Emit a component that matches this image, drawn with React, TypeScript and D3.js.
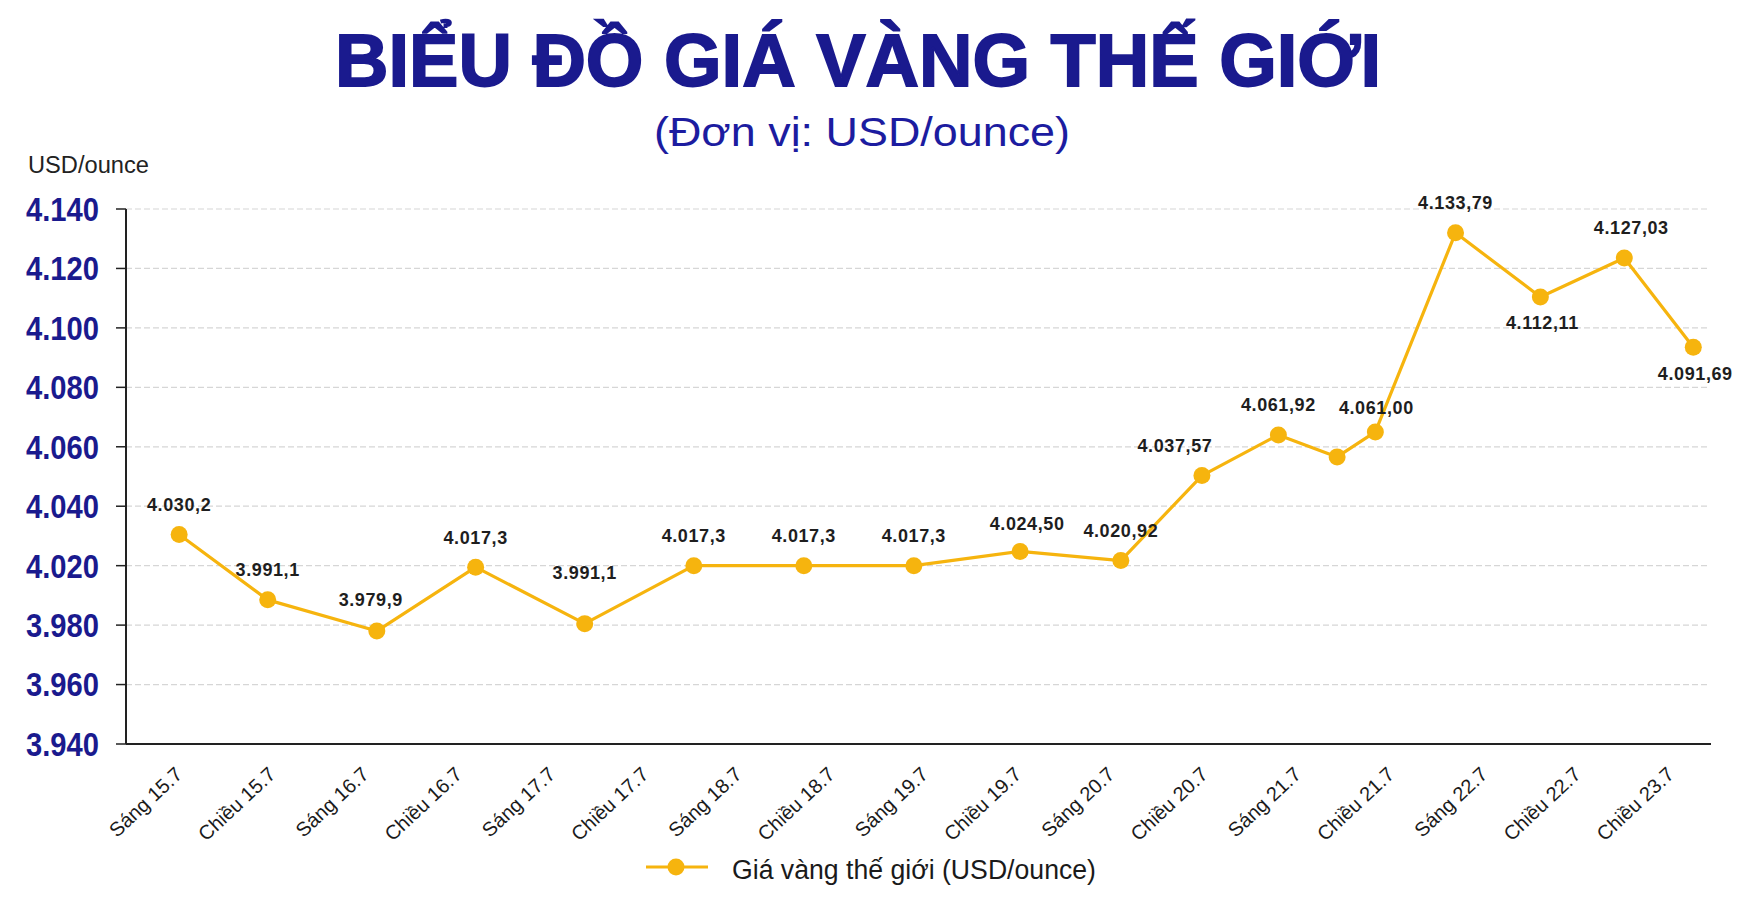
import React from "react";
import * as d3 from "d3";

// ---- data ----
const categories = [
  "Sáng 15.7", "Chiều 15.7", "Sáng 16.7", "Chiều 16.7", "Sáng 17.7", "Chiều 17.7",
  "Sáng 18.7", "Chiều 18.7", "Sáng 19.7", "Chiều 19.7", "Sáng 20.7", "Chiều 20.7",
  "Sáng 21.7", "Chiều 21.7", "Sáng 22.7", "Chiều 22.7", "Chiều 23.7",
];
const yTicks = [3940, 3960, 3980, 4020, 4040, 4060, 4080, 4100, 4120, 4140];
// position of each plotted point along the category axis (in category slots)
const pointSlot = [0.57, 1.52, 2.69, 3.75, 4.92, 6.09, 7.27, 8.45, 9.59, 10.67, 11.54, 12.36, 12.99, 13.4, 14.26, 15.17, 16.07, 16.81];
const pointValue = [4030.5, 3997, 3978, 4019, 3981, 4020, 4020, 4020, 4024.8, 4021.7, 4050.3, 4064, 4056.6, 4065, 4132, 4110.4, 4123.5, 4093.5];
const pointLabel = [
  "4.030,2", "3.991,1", "3.979,9", "4.017,3", "3.991,1", "4.017,3", "4.017,3", "4.017,3",
  "4.024,50", "4.020,92", "4.037,57", "4.061,92", "", "4.061,00", "4.133,79", "4.112,11",
  "4.127,03", "4.091,69",
];
const seriesName = "Giá vàng thế giới (USD/ounce)";

// ---- layout ----
const W = 1754, H = 897;
const X0 = 126, X1 = 1711, YB = 744, YT = 209;
const GOLD = "#f6b40e";
const NAVY = "#1a1a8e";
const labelOffset: Record<number, [number, number]> = {
  2: [-6, -32], 4: [0, -51], 8: [7, -28], 10: [-27, -30], 13: [1, -24],
  15: [2, 26], 16: [7, -31], 17: [2, 26],
};

export default function App() {
  const x = d3.scaleLinear().domain([0, categories.length]).range([X0, X1]);
  const step = (YB - YT) / (yTicks.length - 1);
  const y = d3.scaleLinear()
    .domain([3940, 3980, 4020, 4140])
    .range([YB, YB - 2 * step, YB - 3 * step, YT]);
  const fmt = (v: number) => d3.format(",")(v).replace(/,/g, ".");
  const pts = pointSlot.map((s, i) => [x(s), y(pointValue[i])] as [number, number]);
  const line = d3.line<[number, number]>().x(d => d[0]).y(d => d[1]);

  return (
    <svg width={W} height={H} style={{ position: "absolute", left: 0, top: 0, background: "#fff" }}
      fontFamily="'Liberation Sans', Arial, sans-serif">
      <rect width={W} height={H} fill="#fff" />
      {/* titles */}
      <text x={335} y={86} fontSize={75} fontWeight="bold" fill={NAVY} stroke={NAVY} strokeWidth={1.8}
        textLength={1046} lengthAdjust="spacingAndGlyphs">BIỂU ĐỒ GIÁ VÀNG THẾ GIỚI</text>
      <text x={654} y={146} fontSize={41} fill="#1c1ca0" textLength={416}
        lengthAdjust="spacingAndGlyphs">(Đơn vị: USD/ounce)</text>
      <text x={28} y={173} fontSize={23} fill="#222" textLength={121} lengthAdjust="spacingAndGlyphs">USD/ounce</text>

      {/* grid + y axis */}
      {yTicks.map((t, i) => (
        <g key={t}>
          {i > 0 && (
            <line x1={X0} x2={1708} y1={y(t)} y2={y(t)} stroke="#d6d6d6" strokeWidth={1.2} strokeDasharray="6,3" />
          )}
          <line x1={X0 - 10} x2={X0} y1={y(t)} y2={y(t)} stroke="#222" strokeWidth={1.5} />
          <text x={99} y={y(t)} dy="0.36em" textAnchor="end" fontSize={33} fontWeight="bold" fill={NAVY}
            textLength={73} lengthAdjust="spacingAndGlyphs">
            {fmt(t)}
          </text>
        </g>
      ))}
      <line x1={X0} x2={X0} y1={YT} y2={YB} stroke="#222" strokeWidth={2} />
      <line x1={X0} x2={X1} y1={YB} y2={YB} stroke="#222" strokeWidth={2} />

      {/* x labels */}
      {categories.map((c, i) => {
        const cx = x(i + 0.5) + 11;
        const cy = YB + 32;
        return (
          <text key={c} x={cx} y={cy} transform={`rotate(-43 ${cx} ${cy})`} textAnchor="end"
            fontSize={20} fill="#1a1a1a">{c}</text>
        );
      })}

      {/* series */}
      <path d={line(pts) || ""} fill="none" stroke={GOLD} strokeWidth={3.2} strokeLinejoin="round" />
      {pts.map((p, i) => (
        <circle key={i} cx={p[0]} cy={p[1]} r={8.5} fill={GOLD} />
      ))}
      {pts.map((p, i) => {
        if (!pointLabel[i]) return null;
        const [dx, dy] = labelOffset[i] || [0, -30];
        return (
          <text key={"l" + i} x={p[0] + dx} y={p[1] + dy} dy="0.36em" textAnchor="middle"
            fontSize={18} fontWeight="bold" letterSpacing={0.6} fill="#1e1e1e">{pointLabel[i]}</text>
        );
      })}

      {/* legend */}
      <line x1={646} x2={708} y1={867} y2={867} stroke={GOLD} strokeWidth={3.2} />
      <circle cx={676} cy={867} r={8.5} fill={GOLD} />
      <text x={732} y={879} fontSize={27} fill="#1a1a1a" textLength={364} lengthAdjust="spacingAndGlyphs">
        {seriesName}
      </text>
    </svg>
  );
}
